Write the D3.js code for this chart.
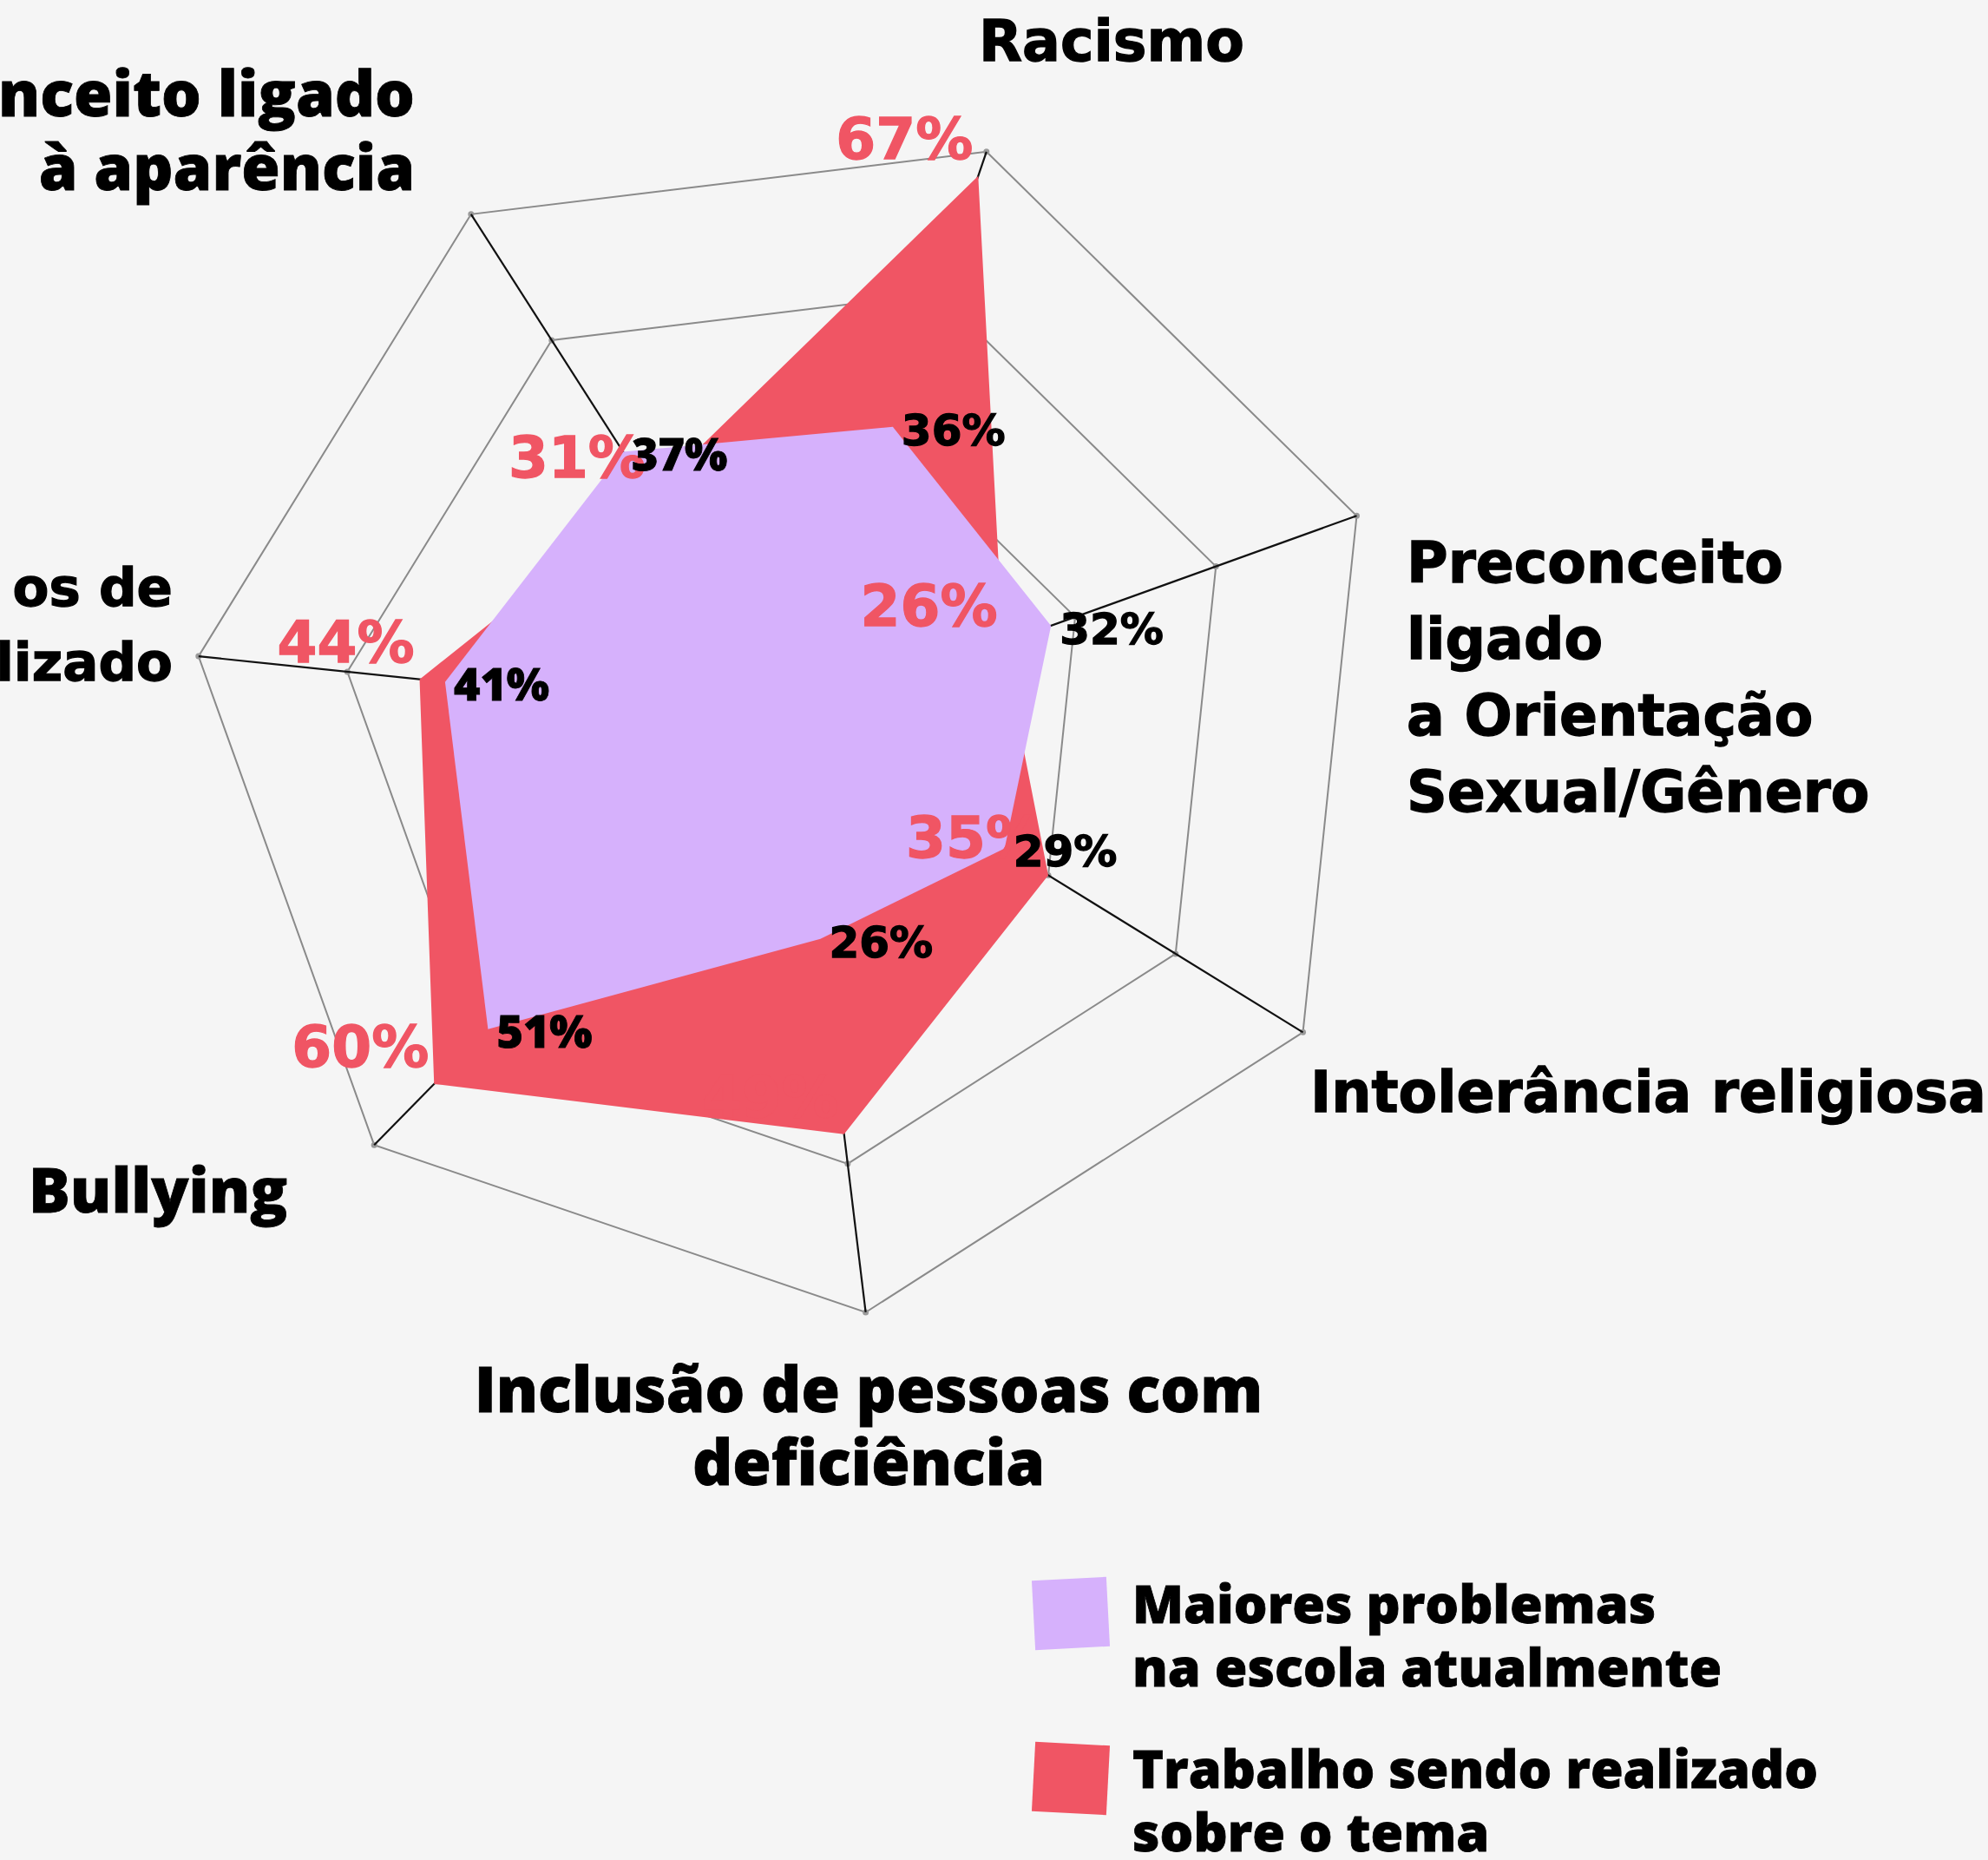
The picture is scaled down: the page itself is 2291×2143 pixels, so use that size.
<!DOCTYPE html>
<html>
<head>
<meta charset="utf-8">
<script src="https://cdn.jsdelivr.net/npm/d3@7"></script>
<style>
  html, body { margin: 0; padding: 0; background: #f5f5f5; }
  svg { display: block; }
  .wide { font-family: "DejaVu Sans", sans-serif; font-weight: bold; stroke-width: 1.3px; paint-order: stroke; }
  .cond { font-family: "Open Sans", "Noto Sans", sans-serif; font-weight: 800; stroke-width: 0.8px; paint-order: stroke; }
</style>
</head>
<body>
<svg></svg>
<script>
const width = 2291;
const height = 2143;

// data
const categories = [
  "Racismo",
  "Preconceito ligado a Orientação Sexual/Gênero",
  "Intolerância religiosa",
  "Inclusão de pessoas com deficiência",
  "Bullying",
  "os de lizado",
  "Preconceito ligado à aparência"
];
const labelLines = [
  ["Racismo"],
  ["Preconceito", "ligado", "a Orientação", "Sexual/Gênero"],
  ["Intolerância religiosa"],
  ["Inclusão de pessoas com", "deficiência"],
  ["Bullying"],
  ["os de", "lizado"],
  ["Preconceito ligado", "à aparência"]
];
const problemas = [36, 32, 29, 26, 51, 41, 37];
const trabalho = [67, 26, 35, 49, 60, 44, 31];
const seriesNames = [
  ["Maiores problemas", "na escola atualmente"],
  ["Trabalho sendo realizado", "sobre o tema"]
];
const ringTicks = [17.5, 35, 52.5, 70];

// layout / style
const cx = 914.6, cy = 827.5;
const radius = 689.5;
const rotation = 18.8 * Math.PI / 180;
const purple = "#d6b1fc";
const red = "#f05564";
const axisLabelWide = [true, true, true, false, false, true, false];
const valueLabelWide = [true, true, true, true, false, false, false];
const labelPos = [
  { x: 1128, y: 70, anchor: "start", lh: 88, size: 65 },
  { x: 1621, y: 671, anchor: "start", lh: 88, size: 65 },
  { x: 1510, y: 1281, anchor: "start", lh: 88, size: 65 },
  { x: 1001, y: 1627, anchor: "middle", lh: 84, size: 72 },
  { x: 33, y: 1397, anchor: "start", lh: 84, size: 71 },
  { x: 199, y: 698, anchor: "end", lh: 86, size: 61 },
  { x: 478, y: 134, anchor: "end", lh: 85, size: 72 }
];

const svg = d3.select("svg")
  .attr("width", width)
  .attr("height", height)
  .attr("viewBox", [0, 0, width, height]);

svg.append("rect")
  .attr("width", width)
  .attr("height", height)
  .attr("fill", "#f5f5f5");

const r = d3.scaleLinear().domain([0, 70]).range([0, radius]);
const angle = d3.scaleLinear()
  .domain([0, categories.length])
  .range([rotation, rotation + 2 * Math.PI]);

// point on axis i for value v (angle clockwise from 12 o'clock)
const point = (i, v) => [
  Math.sin(angle(i)) * r(v),
  -Math.cos(angle(i)) * r(v)
];

const g = svg.append("g")
  .attr("transform", `translate(${cx},${cy})`);

const radial = d3.lineRadial()
  .angle((d, i) => angle(i))
  .radius(d => r(d))
  .curve(d3.curveLinearClosed);

// grid rings
g.selectAll("path.ring")
  .data(ringTicks)
  .enter()
  .append("path")
  .attr("class", "ring")
  .attr("d", t => radial(categories.map(() => t)))
  .attr("fill", "none")
  .attr("stroke", "#8a8a8a")
  .attr("stroke-width", 2);

// small markers at ring vertices
ringTicks.forEach(t => {
  g.selectAll(null)
    .data(categories)
    .enter()
    .append("circle")
    .attr("cx", (d, i) => point(i, t)[0])
    .attr("cy", (d, i) => point(i, t)[1])
    .attr("r", 3.5)
    .attr("fill", "#9a9a9a");
});

// axes
g.selectAll("line.axis")
  .data(categories)
  .enter()
  .append("line")
  .attr("class", "axis")
  .attr("x1", 0)
  .attr("y1", 0)
  .attr("x2", (d, i) => point(i, 70)[0])
  .attr("y2", (d, i) => point(i, 70)[1])
  .attr("stroke", "#111")
  .attr("stroke-width", 2.2);

// series areas
g.append("path")
  .attr("d", radial(trabalho))
  .attr("fill", red);

g.append("path")
  .attr("d", radial(problemas))
  .attr("fill", purple);

// value labels: red series
g.selectAll("text.red")
  .data(trabalho)
  .enter()
  .append("text")
  .attr("class", "red wide")
  .attr("x", (d, i) => point(i, d)[0] - 6)
  .attr("y", (d, i) => point(i, d)[1] - 20)
  .attr("text-anchor", "end")
  .style("font-size", "66px")
  .attr("fill", red)
  .attr("stroke", red)
  .text(d => d + "%");

// value labels: purple series
g.selectAll("text.black")
  .data(problemas)
  .enter()
  .append("text")
  .attr("class", (d, i) => "black " + (valueLabelWide[i] ? "wide" : "cond"))
  .attr("x", (d, i) => point(i, d)[0] + 10)
  .attr("y", (d, i) => point(i, d)[1] + 21)
  .attr("text-anchor", "start")
  .style("font-size", (d, i) => valueLabelWide[i] ? "50px" : "52px")
  .attr("fill", "#000")
  .attr("stroke", "#000")
  .text(d => d + "%");

// category labels
svg.selectAll("text.cat")
  .data(labelLines)
  .enter()
  .append("text")
  .attr("class", (d, i) => "cat " + (axisLabelWide[i] ? "wide" : "cond"))
  .attr("text-anchor", (d, i) => labelPos[i].anchor)
  .style("font-size", (d, i) => labelPos[i].size + "px")
  .attr("fill", "#000")
  .attr("stroke", "#000")
  .each(function (lines, i) {
    const p = labelPos[i];
    d3.select(this).selectAll("tspan")
      .data(lines)
      .enter()
      .append("tspan")
      .attr("x", p.x)
      .attr("y", (d, j) => p.y + j * p.lh)
      .text(d => d);
  });

// legend
const legend = svg.append("g");
const legendColors = [purple, red];
const legendTop = [1819, 2009];
const legendRot = [-3, 3];

legend.selectAll("rect")
  .data(seriesNames)
  .enter()
  .append("rect")
  .attr("x", 1191)
  .attr("y", (d, i) => legendTop[i])
  .attr("width", 86)
  .attr("height", 80)
  .attr("fill", (d, i) => legendColors[i])
  .attr("transform", (d, i) => `rotate(${legendRot[i]},1234,${legendTop[i] + 40})`);

legend.selectAll("text")
  .data(seriesNames)
  .enter()
  .append("text")
  .attr("class", "cond")
  .style("font-size", "61px")
  .attr("fill", "#000")
  .attr("stroke", "#000")
  .each(function (lines, i) {
    d3.select(this).selectAll("tspan")
      .data(lines)
      .enter()
      .append("tspan")
      .attr("x", 1305)
      .attr("y", (d, j) => legendTop[i] + 51 + j * 73)
      .text(d => d);
  });
</script>
</body>
</html>
